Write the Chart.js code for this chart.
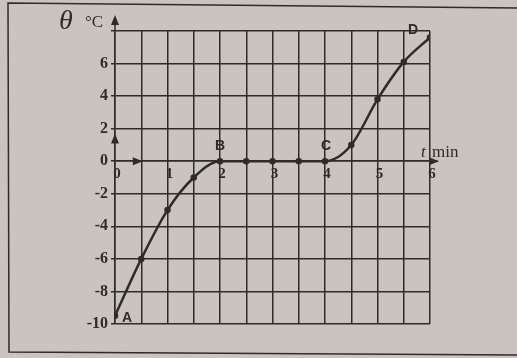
<!DOCTYPE html>
<html>
<head>
<meta charset="utf-8">
<script src="https://cdn.jsdelivr.net/npm/chart.js@4"></script>
<style>
  body { margin: 0; background: #c9c4be; }
  #box { width: 517px; height: 358px; position: relative; }
</style>
</head>
<body>
<div id="box"><canvas id="heat"></canvas></div>
<script>
// time in minutes and temperature in degrees C
var times = [0, 0.5, 1, 1.5, 2, 2.5, 3, 3.5, 4, 4.5, 5, 5.5, 6];
var temps = [-9.5, -6, -3, -1, 0, 0, 0, 0, 0, 1, 3.8, 6.1, 7.6];
var yTicks = [-10, -8, -6, -4, -2, 0, 2, 4, 6];
var xTicks = [0, 1, 2, 3, 4, 5, 6];
var pointNames = [
  { t: 0, v: -9.5, text: "A", dx: 12, dy: 2 },
  { t: 2, v: 0, text: "B", dx: 0, dy: -15 },
  { t: 4, v: 0, text: "C", dx: 1, dy: -15 },
  { t: 6, v: 7.6, text: "D", dx: -17, dy: -7 },
];

var ink = "#2f2b28";

function arrow(ctx, x, y, dir) {
  ctx.beginPath();
  if (dir === "up") {
    ctx.moveTo(x, y);
    ctx.lineTo(x - 4, y + 10);
    ctx.lineTo(x + 4, y + 10);
  } else {
    ctx.moveTo(x, y);
    ctx.lineTo(x - 10, y - 4);
    ctx.lineTo(x - 10, y + 4);
  }
  ctx.closePath();
  ctx.fill();
}

var decor = {
  id: "decor",
  beforeDraw: function (chart) {
    var ctx = chart.ctx;
    ctx.save();
    ctx.fillStyle = "#c9c4be";
    ctx.fillRect(0, 0, chart.width, chart.height);
    // photo frame
    ctx.strokeStyle = ink;
    ctx.lineWidth = 1.5;
    ctx.beginPath();
    ctx.moveTo(530, 8);
    ctx.lineTo(8, 3);
    ctx.lineTo(9, 352);
    ctx.lineTo(530, 355);
    ctx.stroke();
    ctx.restore();
  },
  afterDraw: function (chart) {
    var ctx = chart.ctx;
    var x = chart.scales.x, y = chart.scales.y;
    var x0 = x.getPixelForValue(0), y0 = y.getPixelForValue(0);
    ctx.save();
    ctx.strokeStyle = ink;
    ctx.fillStyle = ink;
    ctx.lineWidth = 1.5;
    // axis extensions and arrows
    ctx.beginPath();
    ctx.moveTo(x0, y.top);
    ctx.lineTo(x0, y.top - 12);
    ctx.moveTo(x.right, y0);
    ctx.lineTo(x.right + 8, y0);
    ctx.stroke();
    arrow(ctx, x0, y.top - 16, "up");
    arrow(ctx, x.right + 9, y0, "right");
    arrow(ctx, x0, y.getPixelForValue(1.7), "up");
    arrow(ctx, x.getPixelForValue(0.53), y0, "right");

    ctx.font = "bold 14px 'Liberation Sans'";
    ctx.textAlign = "center";
    ctx.textBaseline = "middle";
    pointNames.forEach(function (p) {
      ctx.fillText(p.text, x.getPixelForValue(p.t) + p.dx, y.getPixelForValue(p.v) + p.dy);
    });

    ctx.textAlign = "left";
    ctx.textBaseline = "alphabetic";
    ctx.font = "italic 28px 'Liberation Serif'";
    ctx.fillText("\u03b8", x0 - 56, y.top - 2);
    ctx.font = "17px 'Liberation Serif'";
    ctx.fillText("\u00b0C", x0 - 30, y.top - 4);
    ctx.font = "italic 17px 'Liberation Serif'";
    ctx.fillText("t", x.right - 9, y0 - 4);
    ctx.font = "17px 'Liberation Serif'";
    ctx.fillText("min", x.right + 2, y0 - 4);
    ctx.restore();
  },
};

new Chart(document.getElementById("heat"), {
  type: "line",
  data: {
    datasets: [
      {
        data: times.map(function (t, i) { return { x: t, y: temps[i] }; }),
        borderColor: ink,
        backgroundColor: ink,
        borderWidth: 2.5,
        cubicInterpolationMode: "monotone",
        pointRadius: 2,
        fill: false,
      },
    ],
  },
  options: {
    responsive: true,
    maintainAspectRatio: false,
    animation: false,
    layout: { padding: { left: 0, right: 87, top: 31, bottom: 34 } },
    plugins: { legend: { display: false }, tooltip: { enabled: false } },
    scales: {
      x: {
        type: "linear",
        position: { y: 0 },
        min: 0,
        max: 6,
        afterBuildTicks: function (scale) {
          var list = [];
          for (var i = 0; i <= 12; i++) list.push({ value: i / 2 });
          scale.ticks = list;
        },
        grid: { color: ink, lineWidth: 1.5, drawTicks: false },
        border: { color: ink, width: 1.5 },
        ticks: {
          autoSkip: false,
          maxRotation: 0,
          padding: 4,
          labelOffset: 2,
          color: ink,
          font: { family: "'Liberation Serif'", size: 15, weight: "bold" },
          callback: function (v) {
            return xTicks.indexOf(v) >= 0 ? String(v) : "";
          },
        },
      },
      y: {
        min: -10,
        max: 8,
        afterFit: function (scale) { scale.width = 115; },
        grid: { color: ink, lineWidth: 1.5, tickLength: 4 },
        border: { color: ink, width: 1.5 },
        ticks: {
          stepSize: 2,
          padding: 3,
          color: ink,
          font: { family: "'Liberation Serif'", size: 16, weight: "bold" },
          callback: function (v) {
            return yTicks.indexOf(v) >= 0 ? String(v) : "";
          },
        },
      },
    },
  },
  plugins: [decor],
});
</script>
</body>
</html>
